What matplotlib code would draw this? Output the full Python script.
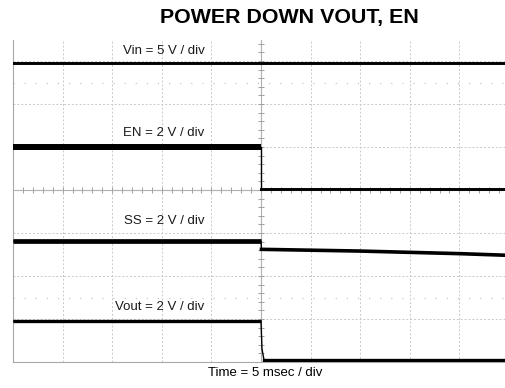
import numpy as np
import matplotlib
matplotlib.use("Agg")
import matplotlib.pyplot as plt

plt.rcParams['font.family'] = ['Liberation Sans', 'DejaVu Sans']

# scope settings: 5 ms per division, 10 divisions across
ms_per_div = 5
n_div_x = 10

# trace levels in screen divisions (0 = bottom graticule line)
vin_t = [0, 50]
vin_div = [6.95, 6.95]

en_t = [0, 25, 25, 50]
en_div = [5.0, 5.0, 4.03, 4.03]

ss_t = [0, 25, 25.05, 30, 35, 40, 45, 50]
ss_div = [2.81, 2.81, 2.62, 2.6, 2.58, 2.55, 2.52, 2.48]

vout_t = [0, 25, 25.1, 25.3, 50]
vout_div = [0.95, 0.95, 0.3, 0.05, 0.05]

channel_labels = ["Vin = 5 V / div", "EN = 2 V / div", "SS = 2 V / div", "Vout = 2 V / div"]
label_t = [15.2, 15.2, 15.2, 14.8]
label_div = [7.23, 5.33, 3.28, 1.28]

W, H = 505, 388
fig = plt.figure(figsize=(W / 100, H / 100), dpi=100)

# graticule: 49.6 px per div horizontally, 43 px per div vertically
left_px, bottom_px, top_px = 13, 362, 40
div_w, div_h = 49.6, 43
ax = fig.add_axes([left_px / W, 1 - bottom_px / H,
                   n_div_x * div_w / W, (bottom_px - top_px) / H])
ax.set_xlim(0, n_div_x * ms_per_div)
ax.set_ylim(0, (bottom_px - top_px) / div_h)

grid_col = "#c8c8c8"
for k in range(1, n_div_x):
    if k != 5:
        ax.axvline(k * ms_per_div, color=grid_col, lw=0.7, ls=(0, (2, 2)), zorder=1)
for k in range(1, 8):
    if k != 4:
        ax.axhline(k, color=grid_col, lw=0.7, ls=(0, (2, 2)), zorder=1)
for yd in (1.5, 6.5):
    ax.axhline(yd, color="#bdbdbd", lw=0.8, ls=(0, (1, 9)), zorder=1)

# center axes with minor ticks
ax.axvline(25, color="#b0b0b0", lw=0.8, zorder=1)
ax.axhline(4, color="#b0b0b0", lw=0.8, zorder=1)
tx = np.arange(0, 50.01, 1)
ax.plot(tx, np.full_like(tx, 4.0), ls="none", marker="|", ms=4, mew=0.7, color="#a0a0a0", zorder=1)
ty = np.arange(0, 7.6, 0.2)
ax.plot(np.full_like(ty, 25.0), ty, ls="none", marker="_", ms=4, mew=0.7, color="#a0a0a0", zorder=1)

# traces: thin line for the whole record, heavier strokes on the settled levels
ax.plot(vin_t, vin_div, color="black", lw=2.1, zorder=3)

ax.plot(en_t, en_div, color="black", lw=1.0, zorder=3)
ax.plot(en_t[:2], en_div[:2], color="black", lw=4.3, solid_capstyle="butt", zorder=3)
ax.plot(en_t[2:], en_div[2:], color="black", lw=2.1, zorder=3)

ax.plot(ss_t, ss_div, color="black", lw=1.0, zorder=3)
ax.plot(ss_t[:2], ss_div[:2], color="black", lw=3.4, solid_capstyle="butt", zorder=3)
ax.plot(ss_t[2:], ss_div[2:], color="black", lw=2.6, zorder=3)

ax.plot(vout_t, vout_div, color="black", lw=1.0, zorder=3)
ax.plot(vout_t[:2], vout_div[:2], color="black", lw=2.4, solid_capstyle="butt", zorder=3)
ax.plot(vout_t[-2:], vout_div[-2:], color="black", lw=2.4, zorder=3)

for txt, t, d in zip(channel_labels, label_t, label_div):
    ax.text(t, d, txt, ha="center", va="center", fontsize=9.5, color="#1a1a1a", zorder=4)

for side in ("top", "right"):
    ax.spines[side].set_visible(False)
ax.spines["left"].set_color("#a8a8a8")
ax.spines["bottom"].set_color("#a8a8a8")
ax.spines["left"].set_linewidth(0.8)
ax.spines["bottom"].set_linewidth(0.8)
ax.set_xticks([])
ax.set_yticks([])

fig.text(289 / W, 1 - 18 / H, "POWER DOWN VOUT, EN", ha="center", va="center",
         fontsize=15.4, fontweight="bold")
fig.text(265 / W, 1 - 373 / H, "Time = 5 msec / div", ha="center", va="center", fontsize=9.5)

fig.savefig("out.png", dpi=100)
